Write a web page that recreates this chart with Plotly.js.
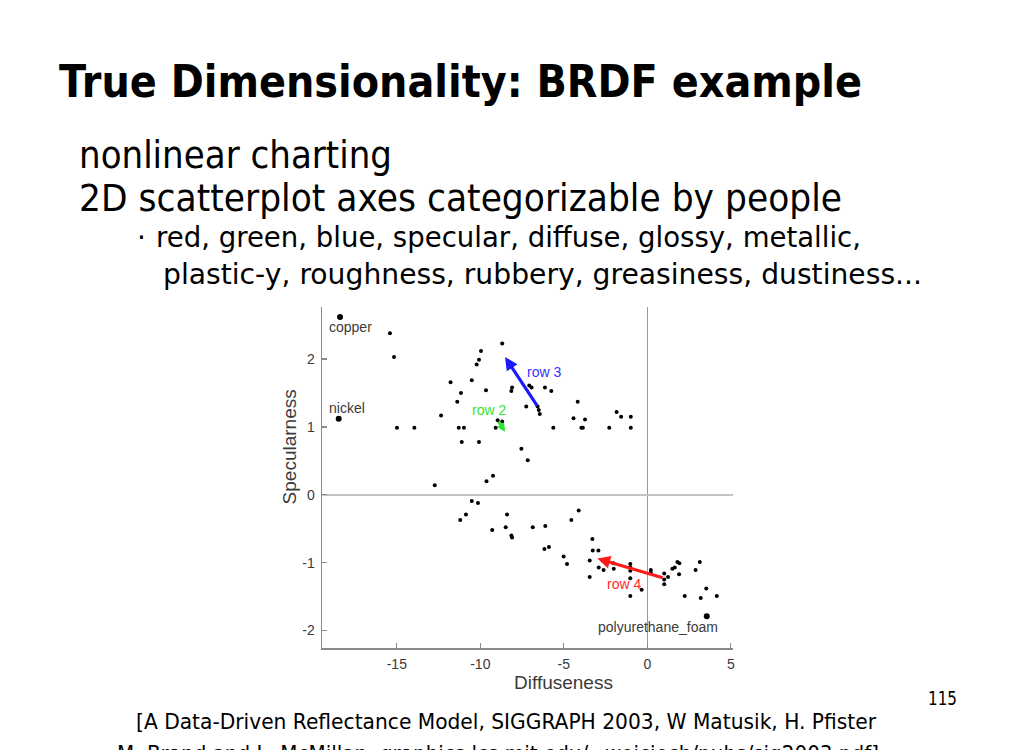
<!DOCTYPE html>
<html>
<head>
<meta charset="utf-8">
<script src="https://cdn.plot.ly/plotly-3.0.1.min.js"></script>
<style>
  html, body { margin: 0; padding: 0; background: #fff; }
  #wrap { position: relative; width: 1010px; height: 750px; overflow: hidden; }
  #chart { position: absolute; left: 0; top: 0; width: 1010px; height: 750px; }
  #slide { position: absolute; left: 0; top: 0; pointer-events: none; }
  #slide text { font-family: "DejaVu Sans", "Noto Sans", sans-serif; fill: #000; }
</style>
</head>
<body>
<div id="wrap">
  <div id="chart"></div>
  <svg id="slide" width="1010" height="750" xmlns="http://www.w3.org/2000/svg">
    <text x="59" y="97" font-size="44" font-weight="bold" textLength="803" lengthAdjust="spacingAndGlyphs">True Dimensionality: BRDF example</text>
    <text x="79" y="168" font-size="37" textLength="313" lengthAdjust="spacingAndGlyphs">nonlinear charting</text>
    <text x="79" y="211" font-size="37" textLength="763" lengthAdjust="spacingAndGlyphs">2D scatterplot axes categorizable by people</text>
    <text x="137" y="247" font-size="28">·</text>
    <text x="156" y="247" font-size="28" textLength="705" lengthAdjust="spacingAndGlyphs">red, green, blue, specular, diffuse, glossy, metallic,</text>
    <text x="163" y="284" font-size="28" textLength="759" lengthAdjust="spacingAndGlyphs">plastic-y, roughness, rubbery, greasiness, dustiness...</text>
    <text x="928" y="705" font-size="19" textLength="29" lengthAdjust="spacingAndGlyphs">115</text>
    <text x="136" y="729" font-size="22" textLength="740" lengthAdjust="spacingAndGlyphs">[A Data-Driven Reflectance Model, SIGGRAPH 2003, W Matusik, H. Pfister</text>
    <text x="117" y="761" font-size="22" textLength="762" lengthAdjust="spacingAndGlyphs">M. Brand and L. McMillan, graphics.lcs.mit.edu/~wojciech/pubs/sig2003.pdf]</text>
  </svg>
</div>
<script>
// ---- data ----
const xTickVals = [-15, -10, -5, 0, 5];
const yTickVals = [-2, -1, 0, 1, 2];

// unlabeled materials (diffuseness, specularness)
const materialX = [
  -15.41, -15.17, -14.99, -13.95, -12.73, -12.35, -11.78, -11.38, -11.16, -11.29,
  -10.98, -11.11, -10.51, -10.22, -10.08, -9.96, -9.66, -10.08, -9.63, -9.24,
  -8.69, -9.08, -8.96, -8.69, -8.14, -8.10, -7.07, -6.93, -6.13, -5.75,
  -7.25, -6.57, -6.50, -6.44, -5.63, -7.54, -7.16, -4.17, -4.42, -3.73,
  -3.95, -3.86, -2.28, -1.84, -1.57, -0.99, -0.99,
  -10.51, -10.14, -10.86, -11.20, -9.29, -8.48, -8.40, -8.14, -8.10, -6.86,
  -6.11, -6.16, -5.89, -4.55, -4.11, -5.01, -4.81, -3.29, -3.27, -2.93,
  -3.45, -2.91, -2.62, -2.02, -2.01, -3.45, -1.02, -1.02, -1.02, -1.02,
  -1.02, -0.34, 0.21, 0.21, 1.01, 1.01, 1.01, 1.24, 1.50, 1.64,
  1.80, 1.92, 1.90, 2.24, 2.89, 3.14, 3.20, 3.53, 4.16
];
const materialY = [
  2.38, 2.03, 0.99, 0.99, 0.14, 1.17, 1.66, 1.37, 1.50, 0.99,
  0.99, 0.78, 1.69, 1.92, 1.99, 2.12, 1.54, 0.78, 0.20, 0.28,
  2.23, 0.99, 1.10, 1.08, 1.53, 1.58, 1.61, 1.58, 1.58, 1.53,
  1.30, 1.30, 1.25, 1.19, 0.99, 0.68, 0.51, 1.37, 1.13, 1.11,
  0.99, 0.99, 0.99, 1.22, 1.15, 1.15, 0.99,
  -0.09, -0.12, -0.29, -0.37, -0.52, -0.48, -0.29, -0.60, -0.63, -0.48,
  -0.46, -0.80, -0.77, -0.37, -0.23, -0.91, -1.02, -0.65, -0.82, -0.82,
  -0.97, -1.07, -1.11, -1.01, -1.09, -1.21, -1.02, -1.07, -1.12, -1.23,
  -1.49, -1.40, -1.11, -1.15, -1.16, -1.25, -1.32, -1.21, -1.09, -1.07,
  -0.99, -1.01, -1.17, -1.49, -1.11, -0.99, -1.52, -1.38, -1.49
];

// labeled materials
const labeledNames = ["copper", "nickel", "polyurethane_foam"];
const labeledX = [-18.40, -18.48, 3.56];
const labeledY = [2.62, 1.12, -1.79];

// direction arrows (rows of the chart)
const rowNames = ["row 2", "row 3", "row 4"];
const rowStartX = [-8.96, -6.53, 1.01];
const rowStartY = [1.10, 1.29, -1.23];
const rowEndX = [-8.52, -8.52, -2.99];
const rowEndY = [0.93, 2.03, -0.94];

// ---- styles ----
const labelFont = { family: "Liberation Sans, Arial, sans-serif", size: 14, color: "#3a3a3a" };
const rowColors = ["#2ee62e", "#1a1aff", "#ff1a1a"];
const rowTextColors = ["#33e633", "#3333ff", "#ff2a2a"];
const rowArrowSize = [0.55, 0.8, 0.8];
const rowArrowWidth = [3, 3.2, 3.2];
const labelShift = [[-13, -10], [-12, 11], [-49, -11]];
const labelAnchor = ["left", "left", "center"];
const rowTextAnchorOnTail = [true, false, false];
const rowTextShift = [[-28, 10], [20, -15], [8, -25]];

const traces = [
  {
    type: "scatter", mode: "markers", x: materialX, y: materialY,
    marker: { color: "#000", size: 4 }, hoverinfo: "skip"
  },
  {
    type: "scatter", mode: "markers", x: labeledX, y: labeledY,
    marker: { color: "#000", size: 6 }, hoverinfo: "skip"
  }
];

const annotations = [];
labeledNames.forEach((n, i) => {
  annotations.push({
    x: labeledX[i], y: labeledY[i], xref: "x", yref: "y", text: n,
    showarrow: false, xanchor: labelAnchor[i], yanchor: "middle",
    xshift: labelShift[i][0], yshift: labelShift[i][1], font: labelFont
  });
});
rowNames.forEach((n, i) => {
  annotations.push({
    x: rowEndX[i], y: rowEndY[i], ax: rowStartX[i], ay: rowStartY[i],
    xref: "x", yref: "y", axref: "x", ayref: "y", text: "",
    showarrow: true, arrowhead: 2, arrowsize: rowArrowSize[i], arrowwidth: rowArrowWidth[i],
    arrowcolor: rowColors[i], standoff: 0, startstandoff: 0
  });
  const onTail = rowTextAnchorOnTail[i];
  annotations.push({
    x: onTail ? rowStartX[i] : rowEndX[i], y: onTail ? rowStartY[i] : rowEndY[i],
    xref: "x", yref: "y", text: n, showarrow: false,
    xanchor: "left", yanchor: "middle",
    xshift: rowTextShift[i][0], yshift: rowTextShift[i][1],
    font: Object.assign({}, labelFont, { color: rowTextColors[i] })
  });
});
// axis titles (placed as in the reference, off-centre)
annotations.push({
  xref: "paper", yref: "y", x: -0.08, y: 0.70, text: "Specularness",
  textangle: -90, showarrow: false, xanchor: "center", yanchor: "middle",
  font: { family: "Liberation Sans, Arial, sans-serif", size: 19, color: "#3a3a3a" }
});
annotations.push({
  xref: "x", yref: "paper", x: -5.04, y: -0.102, text: "Diffuseness",
  showarrow: false, xanchor: "center", yanchor: "middle",
  font: { family: "Liberation Sans, Arial, sans-serif", size: 19, color: "#3a3a3a" }
});

const axisCommon = {
  showgrid: false, showline: true, linecolor: "#8a8a8a", linewidth: 1.5,
  ticks: "inside", ticklen: 5, tickwidth: 1.3, tickcolor: "#8a8a8a",
  zeroline: true, mirror: false,
  tickfont: { family: "Liberation Sans, Arial, sans-serif", size: 14, color: "#3a3a3a" }
};

const layout = {
  width: 1010, height: 750,
  margin: { l: 322, r: 277, t: 307, b: 102, pad: 0 },
  paper_bgcolor: "rgba(0,0,0,0)", plot_bgcolor: "rgba(0,0,0,0)",
  showlegend: false,
  xaxis: Object.assign({}, axisCommon, {
    range: [-19.48, 5.13], tickmode: "array", tickvals: xTickVals,
    ticktext: xTickVals.map(String), zerolinecolor: "#9a9a9a", zerolinewidth: 1,
    ticklabelstandoff: 3
  }),
  yaxis: Object.assign({}, axisCommon, {
    range: [-2.258, 2.768], tickmode: "array", tickvals: yTickVals,
    ticktext: yTickVals.map(String), zerolinecolor: "#c4c4c4", zerolinewidth: 1.6,
    ticklabelstandoff: 3
  }),
  annotations: annotations
};

Plotly.newPlot("chart", traces, layout, { displayModeBar: false, staticPlot: true });
</script>
</body>
</html>
